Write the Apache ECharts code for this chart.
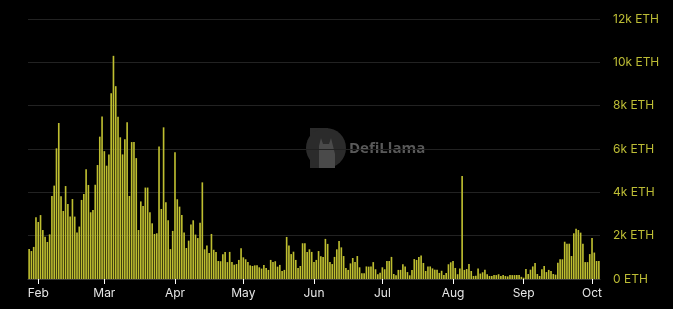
<!DOCTYPE html>
<html>
<head>
<meta charset="utf-8">
<script src="https://cdn.jsdelivr.net/npm/echarts@6/dist/echarts.min.js"></script>
<style>
html,body{margin:0;padding:0;background:#000;}
#c{width:673px;height:309px;}
</style>
</head>
<body>
<div id="c"></div>
<script>
// Daily values (ETH), 2024-01-28 .. 2024-10-04
const startDate = '2024-01-28';
const valuesJanMar = [1380,1290,1480,2850,2630,2950,2260,1950,1710,2060,3830,4310,6030,7200,3820,3140,4290,3460,2880,3690,2880,2150,2420,3650,3920,5060,4340,3080,3180,4350,5260,6570,7500];
const valuesMar = [5900,5230,5750,8570,10300,8900,7490,6540,5750,6450,7230,3830,6320,6320,5580,2260,3580,3370,4220,4220,3080,2570,2080,2110,6120,3230,7000,3540,2710,1380,2220];
const valuesApr = [5850,3680,3340,2950,2150,1430,1770,2510,2710,2050,1890,2600,4460,1370,1550,1200,2080,1350,1250,830,820,1140,1250,780,1250,780,660,690,880,1420];
const valuesMay = [1000,910,780,630,600,630,630,540,480,650,510,420,880,780,820,570,650,370,420,1940,1550,1150,1260,880,510,600,1650,1650,1250,1370,1250];
const valuesJun = [780,880,1290,1050,1020,1850,1620,780,690,1020,1370,1750,1460,1060,510,420,720,970,780,1060,540,260,260,580,570,580,780,450,220,290];
const valuesJul = [540,450,830,830,1020,230,170,420,420,680,580,320,170,420,920,880,1020,1090,740,370,580,580,490,430,430,280,380,180,280,680,770];
const valuesAug = [830,510,220,480,4750,420,460,690,370,140,150,480,250,310,430,220,140,140,180,180,220,140,180,140,120,180,180,180,180,180,100];
const valuesSep = [60,460,230,430,580,740,230,140,450,600,320,420,370,230,200,750,910,910,1720,1630,1630,1060,2110,2320,2260,2140,1630,780,780,1150];
const valuesOct = [1890,1220,830,830];
const yTicks = ['0 ETH','2k ETH','4k ETH','6k ETH','8k ETH','10k ETH','12k ETH'];
const monthNames = ['Jan','Feb','Mar','Apr','May','Jun','Jul','Aug','Sep','Oct','Nov','Dec'];

const values = [].concat(valuesJanMar, valuesMar, valuesApr, valuesMay, valuesJun, valuesJul, valuesAug, valuesSep, valuesOct);
const dates = [];
const d0 = new Date(startDate + 'T00:00:00Z');
for (let i = 0; i < values.length; i++) {
  const d = new Date(d0.getTime() + i * 86400000);
  dates.push(d.toISOString().slice(0, 10));
}
const isMonthStart = (idx) => dates[idx].slice(8, 10) === '01';

const chart = echarts.init(document.getElementById('c'), null, {renderer: 'canvas'});
chart.setOption({
  backgroundColor: '#000000',
  animation: false,
  grid: {left: 28, right: 73, top: 19, bottom: 30},
  xAxis: {
    type: 'category',
    data: dates,
    boundaryGap: true,
    axisLine: {show: true, lineStyle: {color: '#3a3a3a', width: 1}},
    axisTick: {show: true, alignWithLabel: true, interval: (idx) => isMonthStart(idx), length: 5, lineStyle: {color: '#ffffff', width: 1}},
    axisLabel: {
      interval: (idx) => isMonthStart(idx),
      formatter: (v) => monthNames[parseInt(v.slice(5, 7), 10) - 1],
      color: '#e6e6e6',
      fontSize: 12,
      fontFamily: 'Inter, "Noto Sans", sans-serif',
      margin: 8
    },
    splitLine: {show: false}
  },
  yAxis: {
    type: 'value',
    position: 'right',
    min: 0,
    max: 12000,
    interval: 2000,
    axisLine: {show: false},
    axisTick: {show: false},
    axisLabel: {
      formatter: (v) => yTicks[Math.round(v / 2000)],
      color: '#bdbd35',
      fontSize: 12,
      fontFamily: 'Inter, "Noto Sans", sans-serif',
      margin: 13
    },
    splitLine: {show: true, lineStyle: {color: '#222222', width: 1}}
  },
  graphic: [
    {
      type: 'group',
      left: 306, top: 128, silent: true, z: 0,
      children: [
        {type: 'rect', shape: {x: 0, y: 0, width: 18, height: 40}, style: {fill: '#2b2b2b'}},
        {type: 'circle', shape: {cx: 16, cy: 20, r: 20}, style: {fill: '#2b2b2b'}},
        {type: 'polygon', shape: {points: [[9,40],[9,18],[11,10],[13,16],[19,16],[21,10],[23,18],[25,26],[25,40]]}, style: {fill: '#4a4a4a'}}
      ]
    },
    {
      type: 'text', left: 349, top: 141, silent: true, z: 0,
      style: {text: 'DefiLlama', fill: '#595959', font: 'bold 15px "Open Sans", "Noto Sans", sans-serif'}
    }
  ],
  series: [{
    type: 'bar',
    data: values,
    barCategoryGap: '28%',
    itemStyle: {color: '#bebe30'},
    z: 2
  }]
});
</script>
</body>
</html>
